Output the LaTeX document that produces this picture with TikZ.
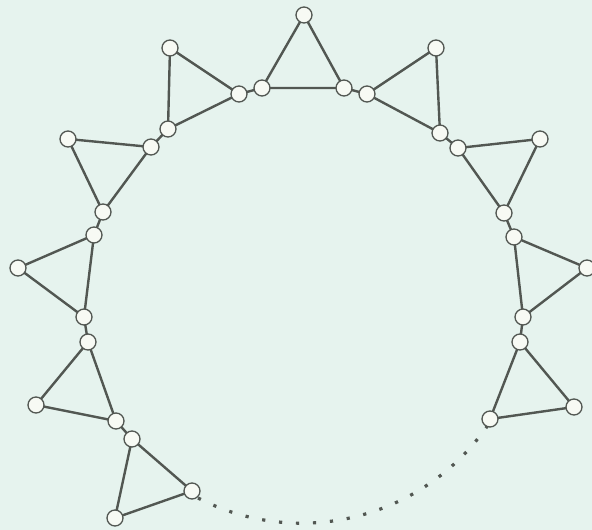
\documentclass[tikz,border=0pt]{standalone}
\usetikzlibrary{backgrounds}
\definecolor{bgc}{HTML}{E6F3EE}
\definecolor{edgec}{HTML}{525752}
\definecolor{vfill}{HTML}{F7FAF4}
\begin{document}
\begin{tikzpicture}[x=1pt,y=-1pt,
  vert/.style={circle,draw=edgec,line width=1.3pt,fill=vfill,minimum size=16pt,inner sep=0pt},
  edge/.style={draw=edgec,line width=2.4pt},
  dotline/.style={draw=edgec,line width=3.2pt,dash pattern=on 3.2pt off 13.8pt}]
\useasboundingbox (0,0) rectangle (592,530);
\foreach \n/\x/\y in {a1/132/439,a2/192/491,a3/115/518,b1/88/342,b2/36/405,b3/116/421,
  c1/94/235,c2/18/268,c3/84/317,d1/151/147,d2/68/139,d3/103/212,e1/239/94,e2/170/48,e3/168/129,
  f1/262/88,f2/304/15,f3/344/88,g1/367/94,g2/436/48,g3/440/133,h1/458/148,h2/540/139,h3/504/213,
  i1/514/237,i2/587/268,i3/523/317,j1/520/342,j2/574/407,j3/490/419}{
  \node[vert] (\n) at (\x,\y) {};
}
\coordinate (ds) at (198,498);
\begin{scope}[on background layer]
\fill[bgc] (0,0) rectangle (592,530);
\foreach \t in {a,b,c,d,e,f,g,h,i,j}{
  \draw[edge] (\t1.center) -- (\t2.center) -- (\t3.center) -- cycle;
}
\draw[edge] (a1.center) -- (b3.center);
\draw[edge] (b1.center) -- (c3.center);
\draw[edge] (c1.center) -- (d3.center);
\draw[edge] (d1.center) -- (e3.center);
\draw[edge] (e1.center) -- (f1.center);
\draw[edge] (f3.center) -- (g1.center);
\draw[edge] (g3.center) -- (h1.center);
\draw[edge] (h3.center) -- (i1.center);
\draw[edge] (i3.center) -- (j1.center);
\draw[dotline] (ds) arc[start angle=117.3,end angle=34.5,radius=226];
\end{scope}
\end{tikzpicture}
\end{document}
